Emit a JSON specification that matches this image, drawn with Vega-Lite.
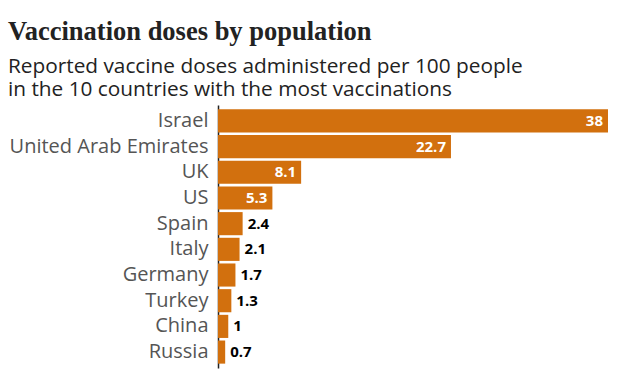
{
  "$schema": "https://vega.github.io/schema/vega-lite/v6.json",
  "width": 390,
  "height": 263,
  "autosize": {"type": "none"},
  "padding": {"left": 218, "top": 105, "right": 32, "bottom": 19},
  "background": "white",
  "title": {
    "text": "Vaccination doses by population",
    "subtitle": ["Reported vaccine doses administered per 100 people", "in the 10 countries with the most vaccinations"],
    "anchor": "start",
    "frame": "group",
    "dx": -210,
    "offset": 5,
    "font": "Liberation Serif",
    "fontSize": 26.5,
    "fontWeight": "bold",
    "color": "#222222",
    "subtitleFont": "Open Sans",
    "subtitleFontSize": 20.8,
    "subtitleColor": "#222222",
    "subtitleLineHeight": 23,
    "subtitlePadding": 12
  },
  "data": {
    "values": [
      {"country": "Israel", "value": 38},
      {"country": "United Arab Emirates", "value": 22.7},
      {"country": "UK", "value": 8.1},
      {"country": "US", "value": 5.3},
      {"country": "Spain", "value": 2.4},
      {"country": "Italy", "value": 2.1},
      {"country": "Germany", "value": 1.7},
      {"country": "Turkey", "value": 1.3},
      {"country": "China", "value": 1},
      {"country": "Russia", "value": 0.7}
    ]
  },
  "encoding": {
    "y": {
      "field": "country",
      "type": "nominal",
      "sort": ["Israel", "United Arab Emirates", "UK", "US", "Spain", "Italy", "Germany", "Turkey", "China", "Russia"],
      "scale": {"paddingInner": 0.1, "paddingOuter": 0.17},
      "axis": {
        "title": null,
        "ticks": false,
        "domain": true,
        "domainColor": "#222222",
        "domainWidth": 1.5,
        "labelFont": "Open Sans",
        "labelFontSize": 20,
        "labelColor": "#555555",
        "labelPadding": 10,
        "labelLimit": 260
      }
    },
    "x": {
      "field": "value",
      "type": "quantitative",
      "scale": {"domain": [0, 38], "nice": false},
      "axis": null
    }
  },
  "layer": [
    {"mark": {"type": "bar", "color": "#d2700e"}},
    {
      "transform": [{"filter": "datum.value >= 5"}],
      "mark": {"type": "text", "align": "right", "dx": -5, "font": "Open Sans", "fontSize": 15, "fontWeight": "bold", "color": "white"},
      "encoding": {"text": {"field": "value", "type": "quantitative"}}
    },
    {
      "transform": [{"filter": "datum.value < 5"}],
      "mark": {"type": "text", "align": "left", "dx": 5, "font": "Open Sans", "fontSize": 15, "fontWeight": "bold", "color": "black"},
      "encoding": {"text": {"field": "value", "type": "quantitative"}}
    }
  ],
  "config": {"view": {"stroke": null}}
}
